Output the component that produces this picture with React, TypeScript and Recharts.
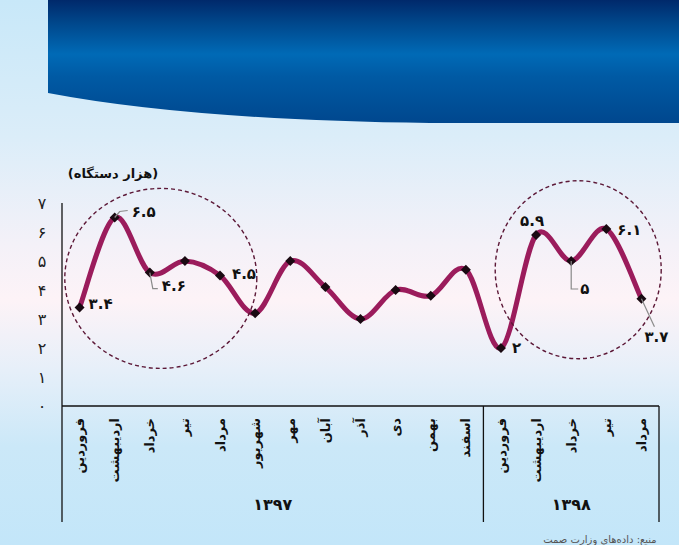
import {LineChart, Line, XAxis, YAxis, LabelList, ReferenceDot} from 'recharts';

import type {ReactElement} from 'react';

const MONTHS = [
	'فروردین', 'اردیبهشت', 'خرداد', 'تیر', 'مرداد', 'شهریور', 'مهر', 'آبان', 'آذر', 'دی', 'بهمن', 'اسفند',
	'فروردین', 'اردیبهشت', 'خرداد', 'تیر', 'مرداد'
];
const YEARS = ['۱۳۹۷', '۱۳۹۸'];
const YEAR_MONTHS = [12, 5];
const VALUES = [3.4, 6.5, 4.6, 5.0, 4.5, 3.2, 5.0, 4.1, 3.0, 4.0, 3.8, 4.7, 2.0, 5.9, 5.0, 6.1, 3.7];
// value labels shown on the chart (empty = none)
const VALUE_LABELS = ['۳.۴', '۶.۵', '۴.۶', '', '۴.۵', '', '', '', '', '', '', '', '۲', '۵.۹', '۵', '۶.۱', '۳.۷'];
const Y_TICKS = [0, 1, 2, 3, 4, 5, 6, 7];
const Y_TICK_LABELS = ['۰', '۱', '۲', '۳', '۴', '۵', '۶', '۷'];
const UNIT = '(هزار دستگاه)';
const SOURCE = 'منبع: داده‌های وزارت صمت';

const W = 679;
const H = 545;
const MARGIN = {top: 203, right: 20, bottom: 23, left: 0};
const Y_AXIS_W = 62;
const X_AXIS_H = 116;
const TICK_GAP = 8; // recharts pushes tick y down by tickSize + tickMargin
const BAND = (W - MARGIN.left - MARGIN.right - Y_AXIS_W) / MONTHS.length;
const FONT = '"DejaVu Sans", sans-serif';
const LINE_COLOR = '#9b1c5c';

const chartData = MONTHS.map((m, i) => {
	let yi = 0;
	let acc = YEAR_MONTHS[0];
	while (i >= acc) {
		yi++;
		acc += YEAR_MONTHS[yi];
	}
	return {id: `${YEARS[yi]}-${i}`, month: m, value: VALUES[i], label: VALUE_LABELS[i]};
});

// label placement relative to the point: dx, dy (baseline), anchor, leader line
const LABEL_POS: Record<number, {dx: number; dy: number; anchor?: string; leader?: number[][]}> = {
	0: {dx: 9, dy: 2},
	1: {dx: 17, dy: -1, leader: [[0, 0], [5, -6], [13, -7]]},
	2: {dx: 12, dy: 18, leader: [[0, 0], [3, 16], [8, 16]]},
	4: {dx: 12, dy: 3},
	12: {dx: 11, dy: 5},
	13: {dx: -4, dy: -9, anchor: 'middle'},
	14: {dx: 9, dy: 33, leader: [[0, 0], [0, 28], [7, 28]]},
	15: {dx: 11, dy: 6},
	16: {dx: 15, dy: 43, anchor: 'middle', leader: [[0, 0], [13, 28]]}
};

// Excel-like smoothed line (Catmull-Rom style bezier)
function smoothCurve(context: any) {
	let xs: number[] = [];
	let ys: number[] = [];
	return {
		areaStart() {},
		areaEnd() {},
		lineStart() {
			xs = [];
			ys = [];
		},
		point(x: number, y: number) {
			xs.push(+x);
			ys.push(+y);
		},
		lineEnd() {
			const n = xs.length;
			if (!n) {
				return;
			}
			context.moveTo(xs[0], ys[0]);
			const t = 1 / 6;
			for (let i = 0; i < n - 1; i++) {
				const p = Math.max(i - 1, 0);
				const q = Math.min(i + 2, n - 1);
				context.bezierCurveTo(
					xs[i] + (xs[i + 1] - xs[p]) * t, ys[i] + (ys[i + 1] - ys[p]) * t,
					xs[i + 1] - (xs[q] - xs[i]) * t, ys[i + 1] - (ys[q] - ys[i]) * t,
					xs[i + 1], ys[i + 1]
				);
			}
		}
	};
}

function Diamond(props: any): ReactElement {
	const {cx, cy, index} = props;
	const r = 5;
	return <polygon key={`d-${index}`} points={`${cx},${cy - r} ${cx + r},${cy} ${cx},${cy + r} ${cx - r},${cy}`} fill={'#1a0a12'} />;
}

function ValueLabel(props: any): ReactElement | null {
	const {x, y, index} = props;
	const text = VALUE_LABELS[index];
	const pos = LABEL_POS[index];
	if (!text || !pos) {
		return null;
	}
	return (
		<g>
			{pos.leader && (
				<polyline
					points={pos.leader.map(([a, b]) => `${x + a},${y + b}`).join(' ')}
					fill={'none'}
					stroke={'#8a8a8a'}
					strokeWidth={1.2}
				/>
			)}
			<text
				x={x + pos.dx}
				y={y + pos.dy}
				textAnchor={pos.anchor ?? 'start'}
				fontFamily={FONT}
				fontWeight={'bold'}
				fontSize={15}
				fill={'#111'}
			>
				{text}
			</text>
		</g>
	);
}

function MonthTick(props: any): ReactElement {
	const {x, payload, index} = props;
	const y = props.y - TICK_GAP;
	const month = chartData[index]?.month ?? payload.value;
	const parts: ReactElement[] = [];
	// group boxes and year labels
	let start = 0;
	YEAR_MONTHS.forEach((count, yi) => {
		if (index === start) {
			const left = x - BAND / 2;
			parts.push(
				<line key={`l-${yi}`} x1={left} x2={left} y1={y} y2={y + X_AXIS_H} stroke={'#111'} strokeWidth={1.3} />
			);
			parts.push(
				<text
					key={`y-${yi}`}
					x={left + (count * BAND) / 2}
					y={y + 98}
					dy={'0.35em'}
					textAnchor={'middle'}
					fontFamily={FONT}
					fontWeight={'bold'}
					fontSize={16}
					fill={'#111'}
				>
					{YEARS[yi]}
				</text>
			);
		}
		if (index === start + count - 1 && yi === YEAR_MONTHS.length - 1) {
			const right = x + BAND / 2;
			parts.push(
				<line key={`r-${yi}`} x1={right} x2={right} y1={y} y2={y + X_AXIS_H} stroke={'#111'} strokeWidth={1.3} />
			);
		}
		start += count;
	});
	return (
		<g>
			{parts}
			<text
				transform={`translate(${x},${y + 12}) rotate(-90)`}
				textAnchor={'end'}
				dy={'0.35em'}
				fontFamily={FONT}
				fontWeight={'bold'}
				fontSize={13}
				fill={'#111'}
			>
				{month}
			</text>
		</g>
	);
}

function ValueTick(props: any): ReactElement {
	const {y, payload} = props;
	const i = Y_TICKS.indexOf(payload.value);
	return (
		<text x={42} y={y} dy={'0.35em'} textAnchor={'middle'} fontFamily={FONT} fontSize={16} fill={'#222'}>
			{Y_TICK_LABELS[i]}
		</text>
	);
}

function Ring(props: any, rx: number, ry: number, dx: number): ReactElement {
	const {cx, cy} = props;
	return (
		<ellipse
			cx={cx + dx}
			cy={cy}
			rx={rx}
			ry={ry}
			fill={'none'}
			stroke={'#5c1837'}
			strokeWidth={1.4}
			strokeDasharray={'4 3'}
		/>
	);
}

function App(): ReactElement {
	return (
		<div
			style={{
				position: 'absolute',
				left: 0,
				top: 0,
				width: W,
				height: H,
				overflow: 'hidden',
				background:
					'linear-gradient(to bottom, #c8e8f9 0%, #dbedf9 25%, #f4f1f8 45%, #fdf3f7 55%, #e6eff9 68%, #cbe8f8 82%, #c3e6f9 100%)'
			}}
		>
			<svg width={W} height={H} style={{position: 'absolute', left: 0, top: 0}}>
				<defs>
					<linearGradient id={'banner'} x1={0} y1={0} x2={0} y2={1}>
						<stop offset={'0%'} stopColor={'#00296b'} />
						<stop offset={'18%'} stopColor={'#00468a'} />
						<stop offset={'44%'} stopColor={'#006ab6'} />
						<stop offset={'62%'} stopColor={'#005aa4'} />
						<stop offset={'100%'} stopColor={'#00478e'} />
					</linearGradient>
				</defs>
				<path d={'M48,0 H679 V123 H430 Q190 120 48 93 Z'} fill={'url(#banner)'} />
				<text x={113} y={178} textAnchor={'middle'} fontFamily={FONT} fontWeight={'bold'} fontSize={13} fill={'#111'}>
					{UNIT}
				</text>
				<text x={600} y={543} textAnchor={'middle'} fontFamily={FONT} fontSize={10} fill={'#555'}>
					{SOURCE}
				</text>
			</svg>
			<div style={{position: 'absolute', left: 0, top: 0}}>
				<LineChart width={W} height={H} data={chartData} margin={MARGIN}>
					<XAxis
						dataKey={'id'}
						height={X_AXIS_H}
						interval={0}
						padding={{left: BAND / 2, right: BAND / 2}}
						tickLine={false}
						axisLine={{stroke: '#111', strokeWidth: 1.3}}
						tick={MonthTick}
					/>
					<YAxis
						width={Y_AXIS_W}
						domain={[0, 7]}
						ticks={Y_TICKS}
						interval={0}
						tickLine={false}
						axisLine={{stroke: '#111', strokeWidth: 1.3}}
						tick={ValueTick}
					/>
					<ReferenceDot
						x={chartData[2].id}
						y={4.4}
						shape={(p: any) => Ring(p, 96, 90, 11)}
						isFront={false}
					/>
					<ReferenceDot
						x={chartData[14].id}
						y={4.7}
						shape={(p: any) => Ring(p, 83, 89, 7)}
						isFront={false}
					/>
					<Line
						type={smoothCurve as any}
						dataKey={'value'}
						stroke={LINE_COLOR}
						strokeWidth={5}
						dot={Diamond}
						activeDot={false}
						isAnimationActive={false}
					>
						<LabelList dataKey={'label'} content={ValueLabel} />
					</Line>
				</LineChart>
			</div>
		</div>
	);
}

export default App;
